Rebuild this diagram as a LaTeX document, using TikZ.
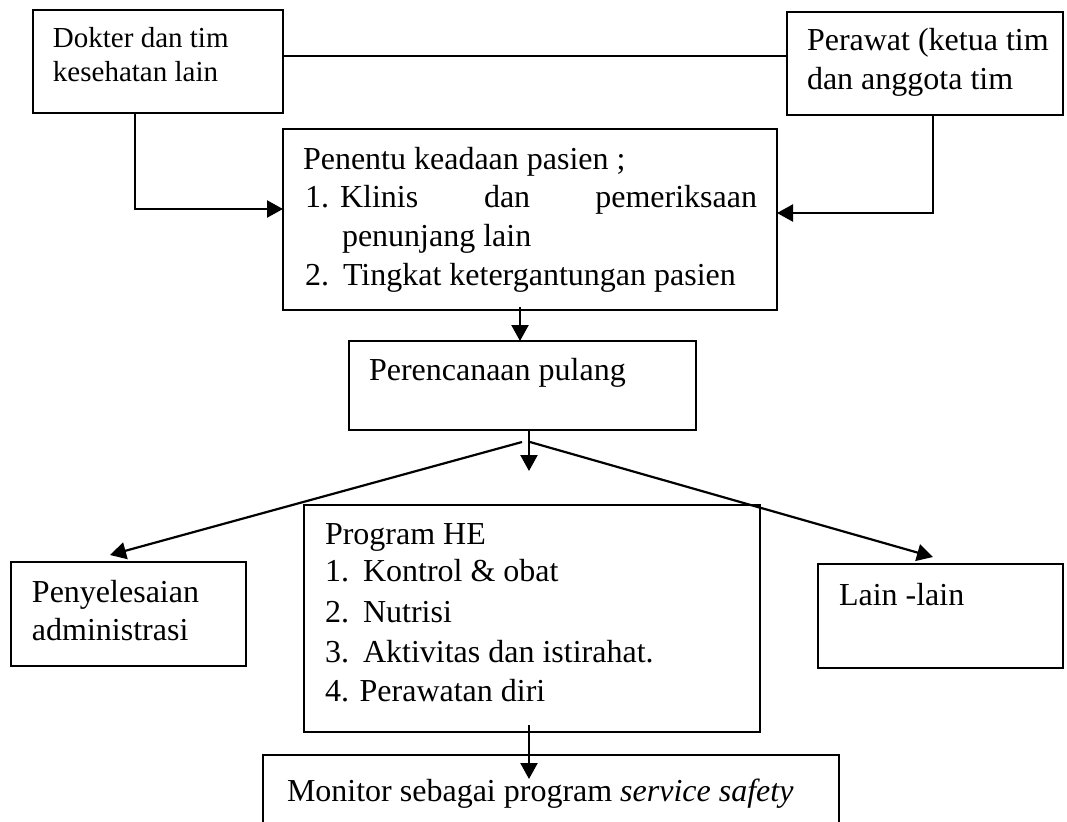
\documentclass[tikz,border=0pt]{standalone}
\usepackage{fontspec}
\setmainfont{Liberation Serif}
\usetikzlibrary{arrows.meta}

\begin{document}
\begin{tikzpicture}[x=0.5pt,y=-0.5pt,
  box/.style={draw, line width=0.7pt, rectangle, inner sep=0pt, outer sep=0pt, anchor=north west},
  txt/.style={anchor=base west, inner sep=0pt, outer sep=0pt, font=\fontsize{16}{19}\selectfont},
  txtr/.style={txt, anchor=base east},
  smalltxt/.style={txt, font=\fontsize{14.5}{17}\selectfont},
  link/.style={line width=1.1pt},
  arr/.style={link, -{Triangle[length=8pt,width=8.5pt]}}]
\useasboundingbox (0,0) rectangle (1067,821);
\clip (0,0) rectangle (1067,821);

% boxes
\node[box, minimum width=125pt,   minimum height=51.5pt] (dok)  at (33,10)  {};
\node[box, minimum width=138pt,   minimum height=51.5pt] (per)  at (787,12) {};
\node[box, minimum width=247pt,   minimum height=90.5pt] (pen)  at (283,129) {};
\node[box, minimum width=173.5pt, minimum height=44.5pt] (ren)  at (349,341) {};
\node[box, minimum width=117.5pt, minimum height=52pt]   (pny)  at (11,562) {};
\node[box, minimum width=228pt,   minimum height=113.5pt] (prog) at (304,505) {};
\node[box, minimum width=122.5pt, minimum height=52pt]   (lain) at (818,564) {};
\node[box, minimum width=288pt,   minimum height=50pt]   (mon)  at (263,755) {};

% texts
\node[smalltxt] (t1a) at (53,47) {Dokter dan tim};
\node[smalltxt] (t1b) at (53,81) {kesehatan lain};

\node[txt] (t2a) at (807,50) {Perawat (ketua tim};
\node[txt] (t2b) at (807,89) {dan anggota tim};

\node[txt] (t3a) at (303,169) {Penentu keadaan pasien ;};
\node[txt] (t3b) at (305,207) {1.};
\node[txt] (t3c) at (340,207) {Klinis};
\node[txt] (t3d) at (484,207) {dan};
\node[txtr] (t3e) at (757,207) {pemeriksaan};
\node[txt] (t3f) at (342,246) {penunjang lain};
\node[txt] (t3g) at (305,285) {2.};
\node[txt] (t3h) at (343,285) {Tingkat ketergantungan pasien};

\node[txt] (t4) at (369,380) {Perencanaan pulang};

\node[txt] (t5a) at (32,602) {Penyelesaian};
\node[txt] (t5b) at (32,640) {administrasi};

\node[txt] (t6a) at (325,544) {Program HE};
\node[txt] (t6b) at (325,581) {1.};
\node[txt] (t6c) at (363,581) {Kontrol \& obat};
\node[txt] (t6d) at (325,622) {2.};
\node[txt] (t6e) at (363,622) {Nutrisi};
\node[txt] (t6f) at (325,662) {3.};
\node[txt] (t6g) at (363,662) {Aktivitas dan istirahat.};
\node[txt] (t6h) at (325,701) {4. Perawatan diri};

\node[txt] (t7) at (839,605) {Lain -lain};

\node[txt] (t8) at (287,801) {Monitor sebagai program \textit{service safety}};

% helper coordinates
\coordinate (hy) at (0,56);
\coordinate (dx) at (135,0);
\coordinate (dy) at (0,209);
\coordinate (px) at (933,0);
\coordinate (py) at (0,213);
\coordinate (ax) at (520,0);
\coordinate (fx) at (529,0);
\coordinate (ftip) at (529,471);
\coordinate (fl) at (522,442);
\coordinate (fr) at (530,442);
\coordinate (lx) at (110,0);
\coordinate (rx) at (933,0);

% connectors
\draw[link] (dok.east |- hy) -- (per.west |- hy);
\draw[arr] (dok.south -| dx) |- (pen.west |- dy);
\draw[arr] (per.south -| px) |- (pen.east |- py);
\draw[arr] ([yshift=1.5pt]pen.south -| ax) -- (ren.north -| ax);
\draw[arr] (ren.south -| fx) -- (ftip);
\draw[arr] (fl) -- ([yshift=3.5pt]pny.north -| lx);
\draw[arr] (fr) -- ([yshift=3.5pt]lain.north -| rx);
\draw[arr] ([yshift=3.5pt]prog.south -| fx) -- ([yshift=-12pt]mon.north -| fx);
\end{tikzpicture}
\end{document}
